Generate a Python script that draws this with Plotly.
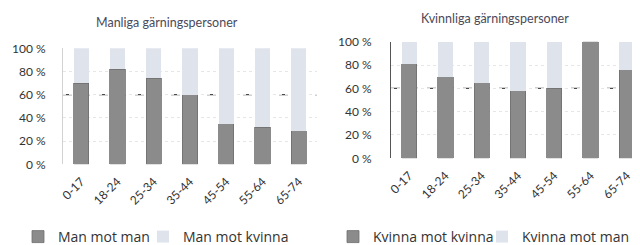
import plotly.graph_objects as go

age_groups = ["0-17", "18-24", "25-34", "35-44", "45-54", "55-64", "65-74"]
man_mot_man = [70, 82, 74, 60, 35, 32, 29]
man_mot_kvinna = [100 - v for v in man_mot_man]
kvinna_mot_kvinna = [81, 70, 65, 58, 60, 100, 76]
kvinna_mot_man = [100 - v for v in kvinna_mot_kvinna]
y_ticks = [0, 20, 40, 60, 80, 100]
y_ticklabels = ["0 %", "20 %", "40 %", "60 %", "80 %", "100 %"]
reference_level = 60

DARK = "#8b8b8b"
LIGHT = "#dfe4ec"
FONT = "Lato"
LFONT = "Open Sans"
TXT = "#333333"

W, H = 640, 245
OFF = 8  # page body margin offset

def px_x(p):
    return (p - OFF) / W

def px_y(p):
    return 1 - (p - OFF) / H

fig = go.Figure()
fig.add_trace(go.Bar(x=age_groups, y=man_mot_man, name="Man mot man", marker=dict(color=DARK, line=dict(color="#6e6e6e", width=0.8)),
                     width=0.42, xaxis="x", yaxis="y", legend="legend", showlegend=True))
fig.add_trace(go.Bar(x=age_groups, y=man_mot_kvinna, name="Man mot kvinna", marker=dict(color=LIGHT, line=dict(width=0)),
                     width=0.42, xaxis="x", yaxis="y", legend="legend2", showlegend=True))
fig.add_trace(go.Bar(x=age_groups, y=kvinna_mot_kvinna, name="Kvinna mot kvinna", marker=dict(color=DARK, line=dict(color="#6e6e6e", width=0.8)),
                     width=0.42, xaxis="x2", yaxis="y2", legend="legend3", showlegend=True))
fig.add_trace(go.Bar(x=age_groups, y=kvinna_mot_man, name="Kvinna mot man", marker=dict(color=LIGHT, line=dict(width=0)),
                     width=0.42, xaxis="x2", yaxis="y2", legend="legend4", showlegend=True))

xcommon = dict(type="category", tickangle=-45, showgrid=False, zeroline=False, ticks="", automargin=False,
               range=[-0.5, 6.5], tickfont=dict(family=FONT, size=12, color=TXT), ticklabelstandoff=7)
ycommon = dict(range=[0, 100], tickvals=y_ticks, ticktext=y_ticklabels, showgrid=True, automargin=False,
               gridcolor="#e6e6e6", griddash="dot", gridwidth=1, zeroline=False,
               tickfont=dict(family=FONT, size=12, color=TXT), ticks="")

def leg(text_start_px):
    return dict(orientation="h", x=px_x(text_start_px - 40), y=px_y(237), xanchor="left", yanchor="middle",
                font=dict(family=LFONT, size=14, color=TXT), bgcolor="rgba(0,0,0,0)", visible=True)

fig.update_layout(
    width=W, height=H, margin=dict(l=0, r=0, t=0, b=0, pad=0, autoexpand=False),
    paper_bgcolor="white", plot_bgcolor="white",
    barmode="stack", showlegend=True,
    xaxis=dict(domain=[px_x(63), px_x(317)], anchor="y", **xcommon),
    yaxis=dict(domain=[px_y(164.3), px_y(48.3)], anchor="x", showline=True, linecolor="#d2d2d2",
               linewidth=1, ticklabelstandoff=14, **ycommon),
    xaxis2=dict(domain=[px_x(391), px_x(645)], anchor="y2", **xcommon),
    yaxis2=dict(domain=[px_y(158.3), px_y(41.7)], anchor="x2", showline=True, linecolor="#555555",
                linewidth=1, ticklabelstandoff=16, **ycommon),
    legend=leg(58),
    legend2=leg(183),
    legend3=leg(373),
    legend4=leg(522),
    annotations=[
        dict(text="Manliga gärningspersoner", x=px_x(167), y=px_y(23), xref="paper", yref="paper",
             xanchor="center", yanchor="middle",
             showarrow=False, font=dict(family=FONT, size=12.5, color="#4a4a5a")),
        dict(text="Kvinnliga gärningspersoner", x=px_x(495), y=px_y(19), xref="paper", yref="paper",
             xanchor="center", yanchor="middle",
             showarrow=False, font=dict(family=FONT, size=12.5, color="#4a4a5a")),
    ],
    shapes=[
        dict(type="line", xref="x domain", yref="y", x0=0, x1=1, y0=reference_level, y1=reference_level,
             line=dict(color="#4a4a4a", width=1.2, dash="dash"), layer="below"),
        dict(type="line", xref="x2 domain", yref="y2", x0=0, x1=1, y0=reference_level, y1=reference_level,
             line=dict(color="#4a4a4a", width=1.2, dash="dash"), layer="below"),
    ],
)

fig.write_html("out.html")
